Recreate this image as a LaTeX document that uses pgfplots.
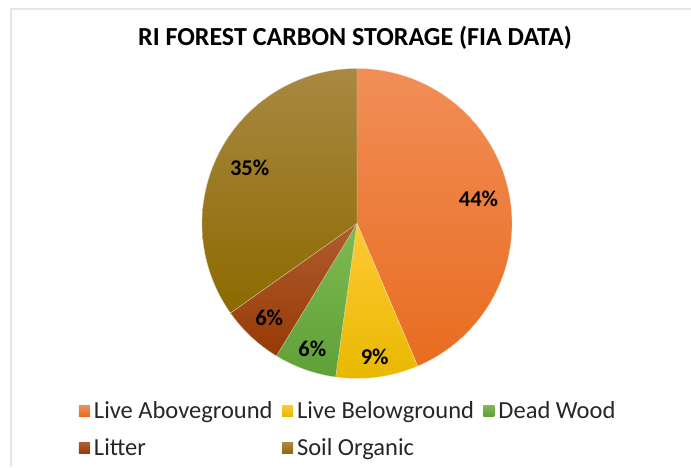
\documentclass[border=0pt]{standalone}
\usepackage{pgfplots}
\pgfplotsset{compat=1.18}
\usepackage{fontspec}
\setmainfont{Carlito}

\definecolor{aboveTop}{HTML}{F18E57}
\definecolor{aboveBot}{HTML}{E86C20}
\definecolor{belowTop}{HTML}{FFC936}
\definecolor{belowBot}{HTML}{E8B900}
\definecolor{deadTop}{HTML}{7EBA52}
\definecolor{deadBot}{HTML}{60A038}
\definecolor{litterTop}{HTML}{B05C2E}
\definecolor{litterBot}{HTML}{963A05}
\definecolor{soilTop}{HTML}{A98843}
\definecolor{soilBot}{HTML}{8C6A00}
\definecolor{frameline}{HTML}{E3E6EC}

% shares in percent, clockwise from 12 o'clock
\def\pAbove{43.6}
\def\pBelow{8.6}
\def\pDead{6.5}
\def\pLitter{6.5}
\def\pSoil{34.8}

\def\cx{357}
\def\cy{243.5}
\def\R{155}

\pgfmathsetmacro\aA{90}
\pgfmathsetmacro\aB{\aA-3.6*\pAbove}
\pgfmathsetmacro\aC{\aB-3.6*\pBelow}
\pgfmathsetmacro\aD{\aC-3.6*\pDead}
\pgfmathsetmacro\aE{\aD-3.6*\pLitter}
\pgfmathsetmacro\aF{\aE-3.6*\pSoil}

% #1 start angle, #2 end angle, #3 top colour, #4 bottom colour, #5 legend text
\newcommand{\slice}[5]{%
  \addplot[draw=white!70!#4, line width=0.3pt, top color=#3, bottom color=#4,
    domain=#2:#1, samples=90]
    ({\cx+\R*cos(x)}, {\cy+\R*sin(x)}) -- (axis cs:\cx,\cy) -- cycle;
  \addlegendentry{#5}
}
% #1 start, #2 end, #3 radius factor, #4 text
\newcommand{\plabel}[4]{%
  \node[font=\bfseries\fontsize{22.5}{26}\selectfont]
    at (axis cs:{\cx+#3*\R*cos((#1+#2)/2)},{\cy+#3*\R*sin((#1+#2)/2)}) {#4};
}

\begin{document}
\begin{tikzpicture}
\begin{axis}[
    x=1pt, y=1pt,
    xmin=0, xmax=691, ymin=0, ymax=467,
    at={(0pt,0pt)}, anchor=origin,
    hide axis, clip=false,
    legend columns=3,
    legend cell align=left,
    legend image code/.code={\path[#1, draw=none] (0pt,-5.5pt) rectangle (11pt,5.5pt);},
    legend style={at={(0.114,0.144)}, anchor=north west, draw=none, fill=none,
      inner sep=0pt, font=\fontsize{24.5}{28}\selectfont, text=black!85,
      nodes={inner sep=1.5pt},
      /tikz/row sep=16pt,
      /tikz/every odd column/.append style={column sep=2.5pt},
      /tikz/every even column/.append style={column sep=8pt}},
  ]
  \slice{\aA}{\aB}{aboveTop}{aboveBot}{Live Aboveground}
  \slice{\aB}{\aC}{belowTop}{belowBot}{Live Belowground}
  \slice{\aC}{\aD}{deadTop}{deadBot}{Dead Wood}
  \slice{\aD}{\aE}{litterTop}{litterBot}{Litter}
  \slice{\aE}{\aF}{soilTop}{soilBot}{Soil Organic}

  \plabel{\aA}{\aB}{0.80}{44\%}
  \plabel{\aB}{\aC}{0.87}{9\%}
  \plabel{\aC}{\aD}{0.86}{6\%}
  \plabel{\aD}{\aE}{0.83}{6\%}
  \plabel{\aE}{\aF}{0.78}{35\%}

  \node[font=\bfseries\fontsize{26}{30}\selectfont] at (axis cs:355,429)
    {RI FOREST CARBON STORAGE (FIA DATA)};

  \draw[frameline, line width=1.2pt] (axis cs:11,0) -- (axis cs:11,458) -- (axis cs:691,458);
\end{axis}
\pgfresetboundingbox
\path (0pt,0pt) rectangle (691pt,467pt);
\end{tikzpicture}
\end{document}
